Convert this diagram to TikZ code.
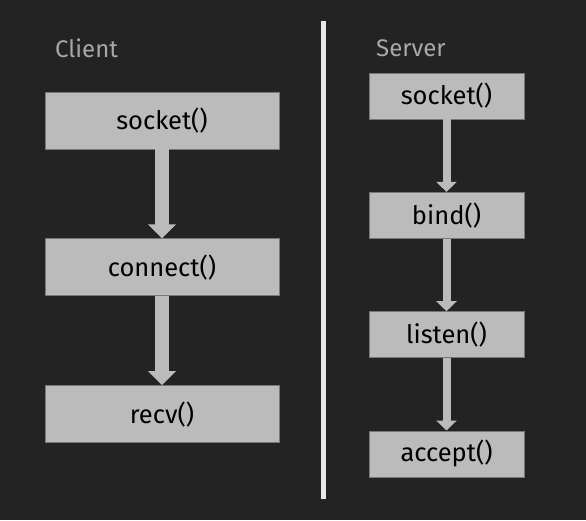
\documentclass[tikz,border=0pt]{standalone}
\usepackage{fontspec}
\setmainfont{Fira Sans}
\usetikzlibrary{positioning,arrows.meta}
\definecolor{bgdark}{HTML}{232323}
\definecolor{boxgray}{HTML}{BBBBBB}
\definecolor{edgegray}{HTML}{777777}
\definecolor{labelgray}{HTML}{A8A8A8}
\definecolor{rulewhite}{HTML}{E8E8E8}

\begin{document}
\begin{tikzpicture}[
    x=1pt, y=1pt,
    node distance=89pt,
    clientbox/.style={rectangle, draw=edgegray, fill=boxgray, line width=0.8pt, minimum width=234pt, minimum height=57pt, text=black, font=\fontsize{25.5}{28}\selectfont},
    serverbox/.style={clientbox, minimum width=155pt, minimum height=46pt},
    heading/.style={anchor=west, inner sep=0pt, text=labelgray, font=\fontsize{24}{28}\selectfont},
    bigarrow/.style={draw=boxgray, line width=14pt, -{Triangle[width=27pt,length=14pt]}},
    smallarrow/.style={draw=boxgray, line width=8pt, -{Triangle[width=20pt,length=10pt]}}
]
\fill[bgdark] (0,0) rectangle (586,-520);
\useasboundingbox (0,0) rectangle (586,-520);

% headings and divider
\node[heading] (client) at (55,-48) {Client};
\node[heading] (server) at (376,-48) {Server};
\coordinate (ruletop) at (323,-21);
\coordinate (rulebottom) at (323,-499);
\draw[rulewhite, line width=5pt] (ruletop) -- (rulebottom);

% client side
\node[clientbox] (csocket) at (162,-120.5) {socket()};
\node[clientbox, below=of csocket] (cconnect) {connect()};
\node[clientbox, below=of cconnect] (crecv) {recv()};

% server side
\node[serverbox] (ssocket) at (446.5,-96) {socket()};
\node[serverbox, below=72.5pt of ssocket] (sbind) {bind()};
\node[serverbox, below=72.5pt of sbind] (slisten) {listen()};
\node[serverbox, below=72.5pt of slisten] (saccept) {accept()};

\draw[bigarrow] (csocket) -- (cconnect);
\draw[bigarrow] (cconnect) -- (crecv);
\draw[smallarrow] (ssocket) -- (sbind);
\draw[smallarrow] (sbind) -- (slisten);
\draw[smallarrow] (slisten) -- (saccept);
\end{tikzpicture}
\end{document}
